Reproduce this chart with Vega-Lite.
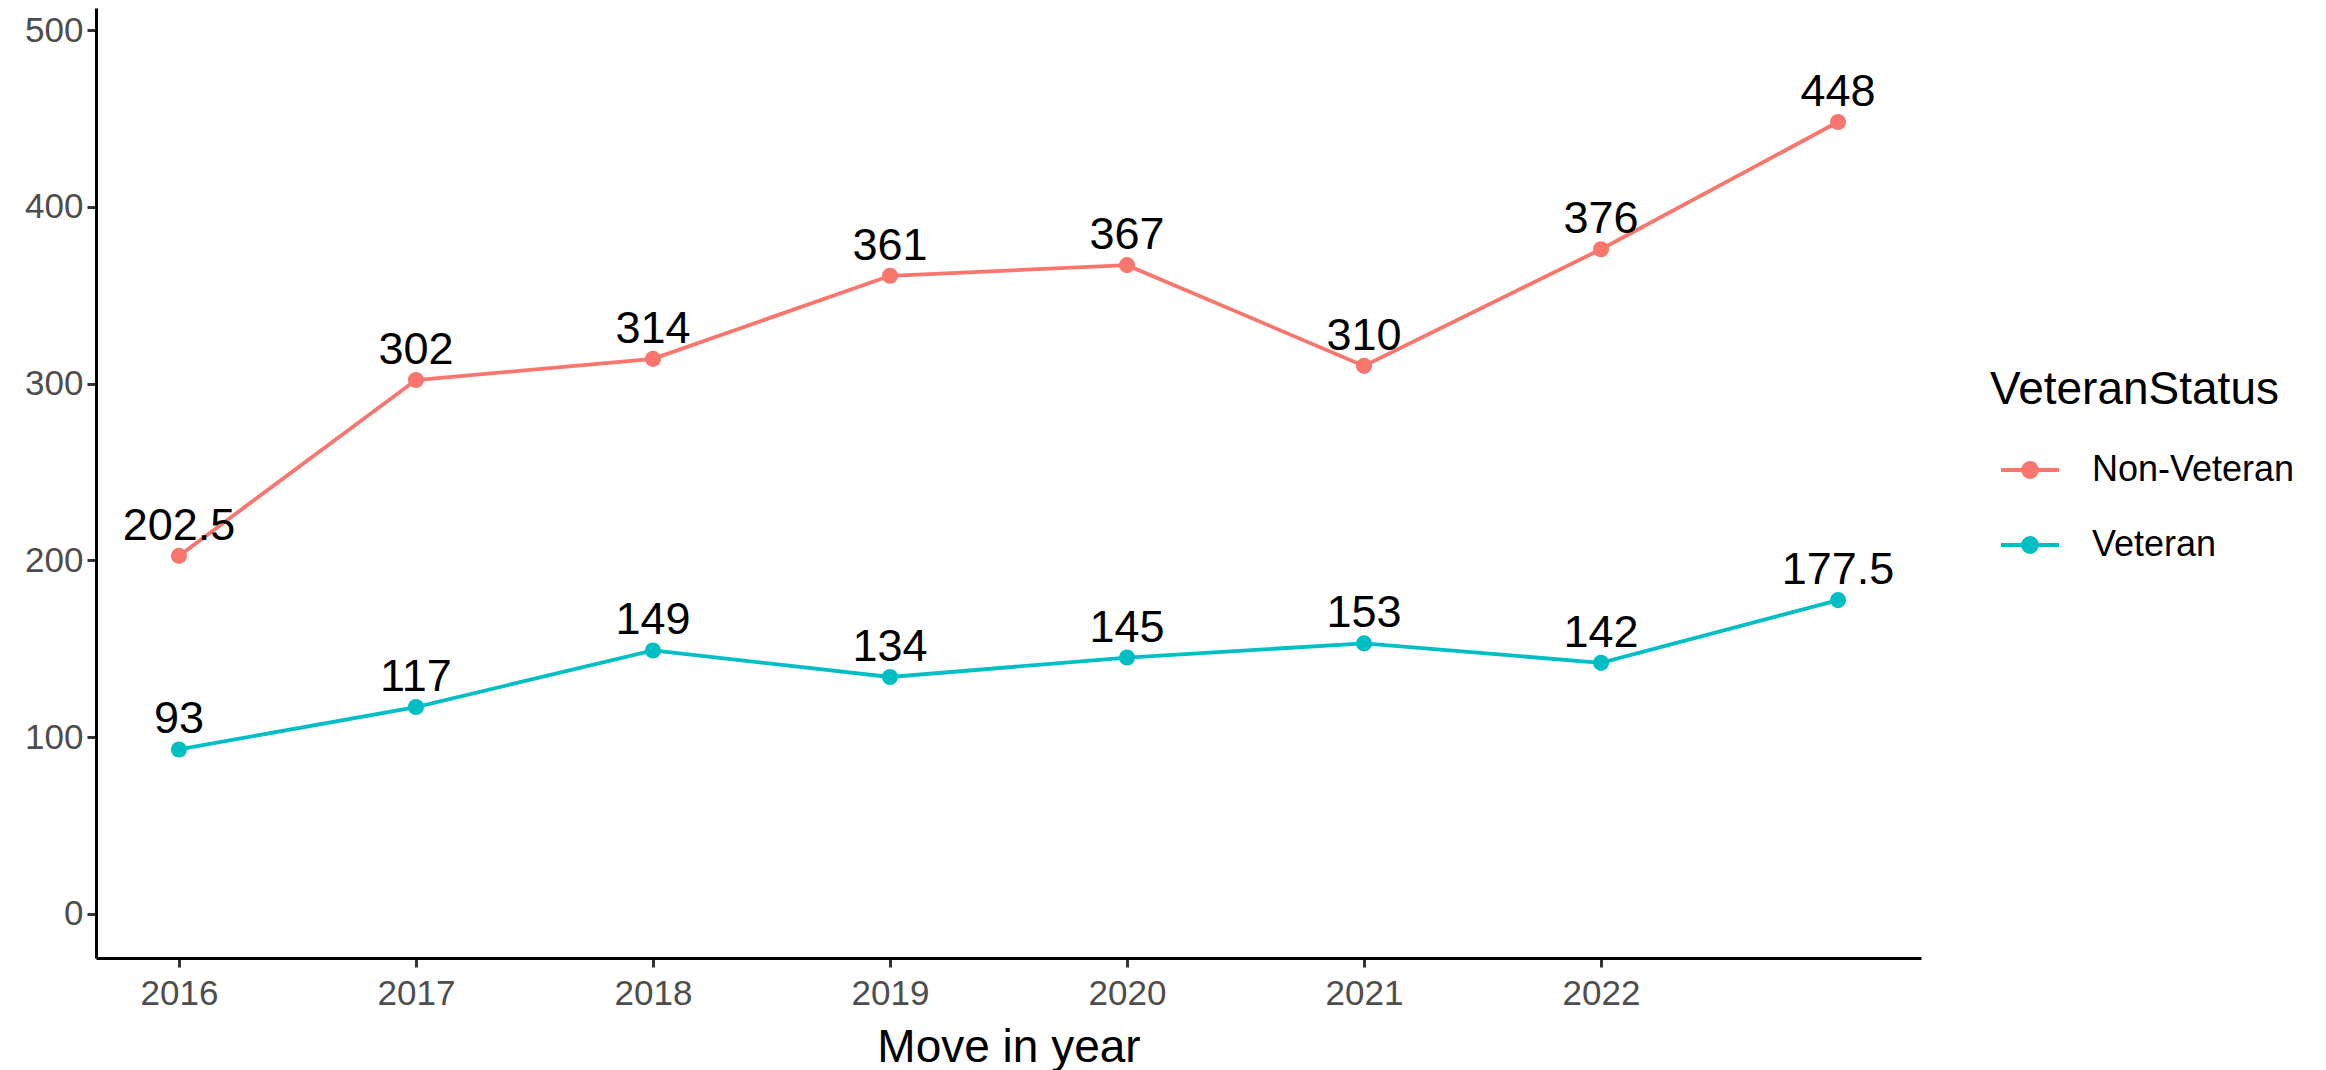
{
  "$schema": "https://vega.github.io/schema/vega-lite/v6.json",
  "autosize": "none",
  "width": 1825,
  "height": 950,
  "padding": {"left": 96, "top": 8, "right": 405, "bottom": 112},
  "background": "white",
  "config": {
    "view": {"stroke": null},
    "font": "Liberation Sans",
    "axis": {
      "grid": false,
      "domainColor": "black",
      "domainWidth": 3,
      "tickColor": "#333333",
      "tickWidth": 3,
      "tickSize": 9,
      "labelColor": "#4D4D4D",
      "labelFontSize": 35,
      "labelFont": "Liberation Sans",
      "titleFont": "Liberation Sans",
      "titleColor": "black",
      "titleFontWeight": "normal",
      "titleFontSize": 46
    }
  },
  "data": {
    "values": [
      {"year": 2016, "status": "Non-Veteran", "value": 202.5},
      {"year": 2017, "status": "Non-Veteran", "value": 302},
      {"year": 2018, "status": "Non-Veteran", "value": 314},
      {"year": 2019, "status": "Non-Veteran", "value": 361},
      {"year": 2020, "status": "Non-Veteran", "value": 367},
      {"year": 2021, "status": "Non-Veteran", "value": 310},
      {"year": 2022, "status": "Non-Veteran", "value": 376},
      {"year": 2023, "status": "Non-Veteran", "value": 448},
      {"year": 2016, "status": "Veteran", "value": 93},
      {"year": 2017, "status": "Veteran", "value": 117},
      {"year": 2018, "status": "Veteran", "value": 149},
      {"year": 2019, "status": "Veteran", "value": 134},
      {"year": 2020, "status": "Veteran", "value": 145},
      {"year": 2021, "status": "Veteran", "value": 153},
      {"year": 2022, "status": "Veteran", "value": 142},
      {"year": 2023, "status": "Veteran", "value": 177.5}
    ]
  },
  "encoding": {
    "x": {
      "field": "year",
      "type": "quantitative",
      "scale": {"domain": [2015.65, 2023.35], "nice": false, "zero": false},
      "axis": {
        "values": [2016, 2017, 2018, 2019, 2020, 2021, 2022],
        "format": "d",
        "labelPadding": 9,
        "title": "Move in year",
        "titlePadding": 14,
        "labelFlush": false,
        "labelOverlap": false
      }
    },
    "y": {
      "field": "value",
      "type": "quantitative",
      "scale": {"domain": [-25, 512.5], "nice": false, "zero": false},
      "axis": {
        "values": [0, 100, 200, 300, 400, 500],
        "title": null,
        "labelPadding": 4,
        "labelFlush": false,
        "labelOverlap": false
      }
    }
  },
  "layer": [
    {
      "mark": {"type": "line", "strokeWidth": 3.8},
      "encoding": {
        "color": {
          "field": "status",
          "type": "nominal",
          "scale": {"domain": ["Non-Veteran", "Veteran"], "range": ["#F8766D", "#00BFC4"]},
          "legend": {
            "title": "VeteranStatus",
            "orient": "none",
            "legendX": 1894,
            "legendY": 360,
            "padding": 0,
            "titleFontSize": 46,
            "titleFontWeight": "normal",
            "titleColor": "black",
            "titleFont": "Liberation Sans",
            "titleLimit": 2000,
            "titlePadding": 25,
            "labelFontSize": 36,
            "labelColor": "black",
            "labelFont": "Liberation Sans",
            "labelLimit": 2000,
            "labelOffset": 31,
            "symbolOffset": 9,
            "rowPadding": 26,
            "symbolType": "M-1,0L1,0M-0.24,0A0.24,0.24,0,1,1,0.24,0A0.24,0.24,0,1,1,-0.24,0Z",
            "symbolSize": 3364,
            "symbolStrokeWidth": 4,
            "encode": {
              "symbols": {
                "update": {
                  "fill": {"scale": "color", "field": "value"},
                  "stroke": {"scale": "color", "field": "value"},
                  "strokeWidth": {"value": 4},
                  "opacity": {"value": 1}
                }
              }
            }
          }
        }
      }
    },
    {
      "mark": {"type": "point", "filled": true, "size": 260, "opacity": 1},
      "encoding": {
        "color": {"field": "status", "type": "nominal", "legend": null}
      }
    },
    {
      "mark": {"type": "text", "baseline": "alphabetic", "dy": -16, "fontSize": 45, "color": "black", "font": "Liberation Sans"},
      "encoding": {
        "text": {"field": "value", "type": "quantitative", "format": "~f"}
      }
    }
  ]
}
